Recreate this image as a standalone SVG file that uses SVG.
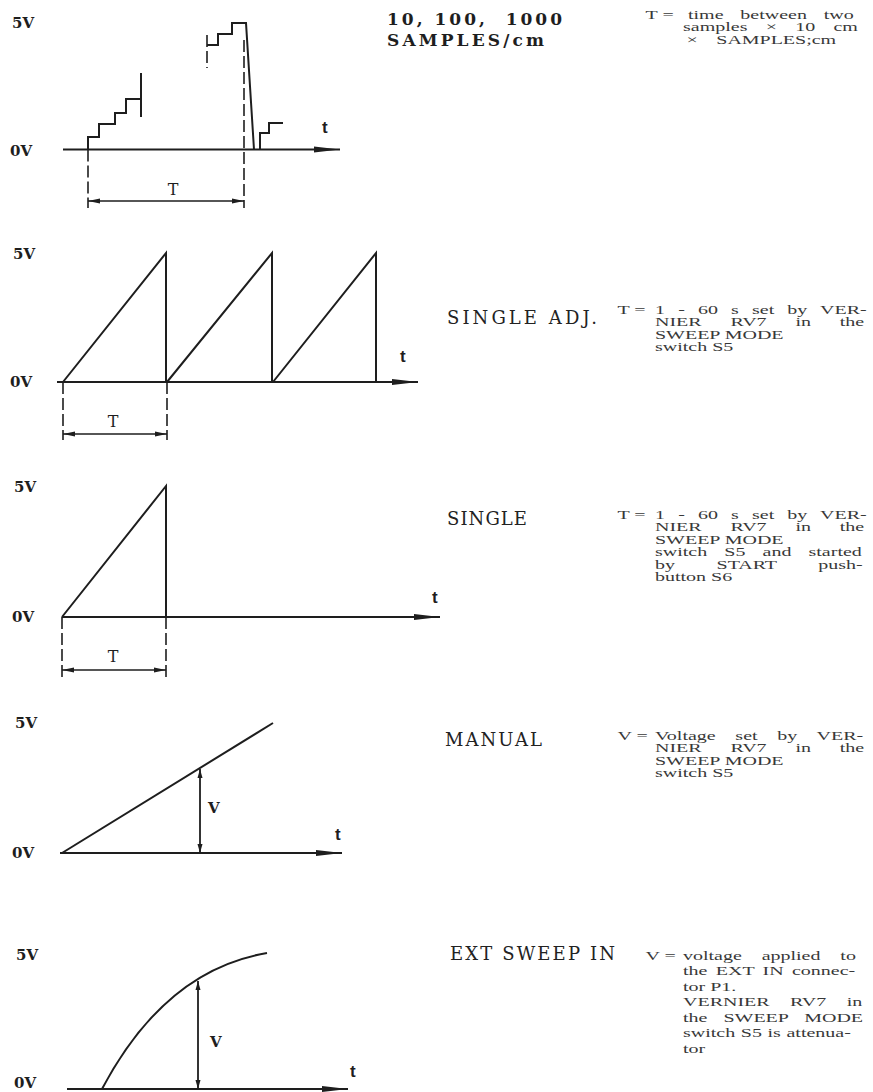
<svg xmlns="http://www.w3.org/2000/svg" width="873" height="1092" viewBox="0 0 873 1092">
<defs>
<style>
.w{fill:none;stroke:#1e1e1e;stroke-width:2;stroke-linejoin:miter}
.ax{fill:none;stroke:#1e1e1e;stroke-width:2;marker-end:url(#axh)}
.dim{fill:none;stroke:#1e1e1e;stroke-width:1.6;marker-start:url(#dh);marker-end:url(#dh)}
.va{fill:none;stroke:#1e1e1e;stroke-width:1.8;marker-start:url(#vh);marker-end:url(#vh)}
.dash{fill:none;stroke:#1e1e1e;stroke-width:1.6;stroke-dasharray:12 4}
.lv{font-family:"DejaVu Serif",serif;font-weight:bold;font-size:15px;fill:#1e1e1e}
.t{font-family:"Liberation Sans",sans-serif;font-weight:bold;font-size:17px;fill:#1e1e1e}
.T{font-family:"DejaVu Serif",serif;font-size:16px;fill:#1e1e1e}
.V{font-family:"DejaVu Serif",serif;font-weight:bold;font-size:15px;fill:#1e1e1e}
.lab{font-family:"DejaVu Serif",serif;font-size:18px;fill:#222}
.big{font-family:"DejaVu Serif",serif;font-weight:bold;font-size:17px;fill:#1e1e1e}
.d{font-family:"Liberation Serif",serif;font-size:12.5px;fill:#383838}
</style>
<marker id="axh" markerUnits="userSpaceOnUse" markerWidth="28" markerHeight="8" refX="26" refY="4" orient="auto"><path d="M0,1 L26,4 L0,7 z" fill="#1e1e1e"/></marker>
<marker id="dh" markerUnits="userSpaceOnUse" markerWidth="14" markerHeight="6" refX="12" refY="3" orient="auto-start-reverse"><path d="M0,0.5 L12,3 L0,5.5 z" fill="#1e1e1e"/></marker>
<marker id="vh" markerUnits="userSpaceOnUse" markerWidth="11" markerHeight="6" refX="9" refY="3" orient="auto-start-reverse"><path d="M0,0.5 L9,3 L0,5.5 z" fill="#1e1e1e"/></marker>
</defs>
<rect width="873" height="1092" fill="#fff"/>

<g id="panel1">
<text class="lv" x="12" y="28">5V</text>
<text class="lv" x="10" y="156">0V</text>
<line class="ax" x1="63" y1="149.5" x2="340" y2="149.5"/>
<text class="t" x="322" y="133">t</text>
<path class="w" d="M88,149.5 V137 H99 V124 H115 V113 H126 V99 H141"/>
<line class="w" x1="141" y1="73" x2="141" y2="117"/>
<line class="dash" x1="207" y1="35" x2="207" y2="68"/>
<path class="w" d="M207,45 H218 V34 H232 V23 H246 L254,149.5"/>
<line class="dash" x1="244" y1="40" x2="244" y2="208"/>
<path class="w" d="M260,149.5 V133 H269 V123 H283"/>
<line class="dash" x1="88" y1="149.5" x2="88" y2="208"/>
<line class="dim" x1="88" y1="201" x2="244" y2="201"/>
<text class="T" x="173" y="195" text-anchor="middle">T</text>
</g>

<g id="panel2">
<text class="lv" x="13" y="259">5V</text>
<text class="lv" x="10" y="387">0V</text>
<line class="ax" x1="57" y1="382" x2="418" y2="382"/>
<text class="t" x="400" y="362">t</text>
<path class="w" d="M63,382 L166,253 V382 M167,382 L272,253 V382 M273,382 L376,253 V382"/>
<line class="dash" x1="63" y1="382" x2="63" y2="440"/>
<line class="dash" x1="167" y1="382" x2="167" y2="440"/>
<line class="dim" x1="63" y1="434" x2="167" y2="434"/>
<text class="T" x="113" y="427" text-anchor="middle">T</text>
</g>

<g id="panel3">
<text class="lv" x="14" y="492">5V</text>
<text class="lv" x="12" y="622">0V</text>
<line class="ax" x1="62" y1="617" x2="440" y2="617"/>
<text class="t" x="432" y="603">t</text>
<path class="w" d="M62,617 L166,486 V617"/>
<line class="dash" x1="62" y1="617" x2="62" y2="678"/>
<line class="dash" x1="166" y1="617" x2="166" y2="678"/>
<line class="dim" x1="62" y1="670" x2="166" y2="670"/>
<text class="T" x="113" y="662" text-anchor="middle">T</text>
</g>

<g id="panel4">
<text class="lv" x="15" y="728">5V</text>
<text class="lv" x="12" y="858">0V</text>
<line class="ax" x1="60" y1="853" x2="342" y2="853"/>
<text class="t" x="335" y="840">t</text>
<line class="w" x1="62" y1="853" x2="273" y2="723"/>
<line class="va" x1="200" y1="769" x2="200" y2="853"/>
<text class="V" x="208" y="813">V</text>
</g>

<g id="panel5">
<text class="lv" x="16" y="960">5V</text>
<text class="lv" x="14" y="1088">0V</text>
<line class="ax" x1="67" y1="1089" x2="348" y2="1089"/>
<text class="t" x="350" y="1077">t</text>
<path class="w" d="M102,1089 Q165,970 267,953"/>
<line class="va" x1="198" y1="981" x2="198" y2="1089"/>
<text class="V" x="210" y="1047">V</text>
</g>

<g id="labels">
<text class="big" x="387" y="25" textLength="175" lengthAdjust="spacing" xml:space="preserve">10, 100,  1000</text>
<text class="big" x="387" y="46" textLength="157" lengthAdjust="spacing">SAMPLES/cm</text>
<text class="lab" x="447" y="324" textLength="150" lengthAdjust="spacing">SINGLE ADJ.</text>
<text class="lab" x="447" y="525" textLength="80" lengthAdjust="spacing">SINGLE</text>
<text class="lab" x="445" y="746" textLength="97" lengthAdjust="spacing">MANUAL</text>
<text class="lab" x="450" y="960" textLength="165" lengthAdjust="spacing">EXT SWEEP IN</text>
</g>

<g id="desc1" class="d" transform="translate(688,0) scale(1.6,1)">
<text x="-26.5" y="19">T =</text>
<text x="0" y="19" style="word-spacing:7.4px">time between two</text>
<text x="-3.1" y="31.5" style="word-spacing:8.3px">samples × 10 cm</text>
<text x="-1" y="44" style="word-spacing:8.5px">× SAMPLES;cm</text>
</g>

<g id="desc2" class="d" transform="translate(655,0) scale(1.6,1)">
<text x="-23.5" y="314">T =</text>
<text x="0" y="314" style="word-spacing:5.1px">1 - 60 s set by VER-</text>
<text x="0" y="326.5" style="word-spacing:14.9px">NIER RV7 in the</text>
<text x="0" y="339">SWEEP MODE</text>
<text x="0" y="351.5">switch S5</text>
</g>

<g id="desc3" class="d" transform="translate(655,0) scale(1.6,1)">
<text x="-23.5" y="519">T =</text>
<text x="0" y="519" style="word-spacing:5.1px">1 - 60 s set by VER-</text>
<text x="0" y="531.5" style="word-spacing:14.9px">NIER RV7 in the</text>
<text x="0" y="544">SWEEP MODE</text>
<text x="0" y="556.5" style="word-spacing:7.6px">switch S5 and started</text>
<text x="0" y="569" style="word-spacing:22.9px">by START push-</text>
<text x="0" y="581.5">button S6</text>
</g>

<g id="desc4" class="d" transform="translate(655,0) scale(1.6,1)">
<text x="-23.5" y="740">V =</text>
<text x="0" y="740" style="word-spacing:9.2px">Voltage set by VER-</text>
<text x="0" y="752.5" style="word-spacing:14.9px">NIER RV7 in the</text>
<text x="0" y="765">SWEEP MODE</text>
<text x="0" y="777.5">switch S5</text>
</g>

<g id="desc5" class="d" transform="translate(683,0) scale(1.6,1)">
<text x="-23.5" y="960">V =</text>
<text x="0" y="960" style="word-spacing:9.3px">voltage applied to</text>
<text x="0" y="975.5" style="word-spacing:2.1px">the EXT IN connec-</text>
<text x="0" y="991">tor P1.</text>
<text x="0" y="1006.5" style="word-spacing:9.7px">VERNIER RV7 in</text>
<text x="0" y="1022" style="word-spacing:6.9px">the SWEEP MODE</text>
<text x="0" y="1037.5" style="word-spacing:0.4px">switch S5 is attenua-</text>
<text x="0" y="1053">tor</text>
</g>
</svg>
